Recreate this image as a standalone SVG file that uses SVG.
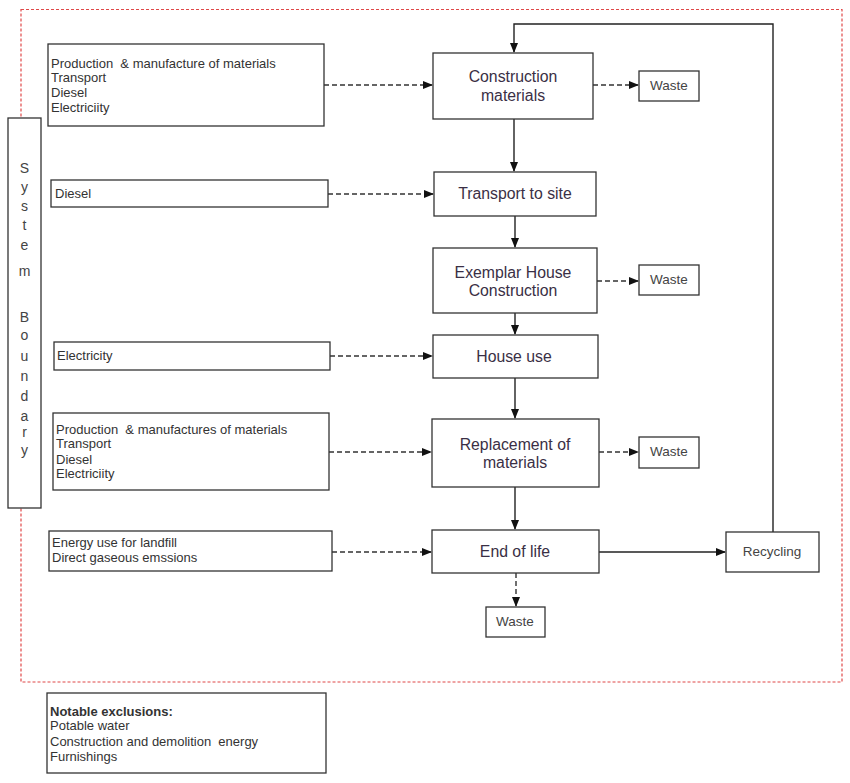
<svg xmlns="http://www.w3.org/2000/svg" width="850" height="783" viewBox="0 0 850 783">
<style>
.box{fill:#fff;stroke:#333;stroke-width:1.3}
.t{font-family:"Liberation Sans",Arial,sans-serif;font-size:13px;fill:#333}
.c{font-family:"Liberation Sans",Arial,sans-serif;font-size:15.8px;fill:#3a2f45;text-anchor:middle}
.w{font-family:"Liberation Sans",Arial,sans-serif;font-size:13.5px;fill:#444;text-anchor:middle}
.sb{font-family:"Liberation Sans",Arial,sans-serif;font-size:14px;fill:#444;text-anchor:middle}
.solid{fill:none;stroke:#222;stroke-width:1.4}
.dash{fill:none;stroke:#333;stroke-width:1.4;stroke-dasharray:5,3}
</style>
<defs>
<marker id="ah" markerWidth="10" markerHeight="8" refX="9" refY="4" orient="auto" markerUnits="userSpaceOnUse">
<path d="M0,0 L10,4 L0,8 Z" fill="#111"/>
</marker>
</defs>
<rect width="850" height="783" fill="#fff"/>
<rect x="21" y="9.5" width="821" height="672.5" fill="none" stroke="#e04848" stroke-width="1.2" stroke-dasharray="3,2"/>

<g id="connectors">
<path class="dash" d="M324,85 H432" marker-end="url(#ah)"/>
<path class="dash" d="M328,194 H433" marker-end="url(#ah)"/>
<path class="dash" d="M330,356 H432" marker-end="url(#ah)"/>
<path class="dash" d="M329,452 H431" marker-end="url(#ah)"/>
<path class="dash" d="M332,552 H431" marker-end="url(#ah)"/>
<path class="dash" d="M593,85 H638" marker-end="url(#ah)"/>
<path class="dash" d="M597,281 H638" marker-end="url(#ah)"/>
<path class="dash" d="M599,452 H638" marker-end="url(#ah)"/>
<path class="dash" d="M516,573 V606" marker-end="url(#ah)"/>
<path class="solid" d="M514,119 V171" marker-end="url(#ah)"/>
<path class="solid" d="M515,216 V247" marker-end="url(#ah)"/>
<path class="solid" d="M515,313 V334" marker-end="url(#ah)"/>
<path class="solid" d="M515,378 V418" marker-end="url(#ah)"/>
<path class="solid" d="M515,487 V529" marker-end="url(#ah)"/>
<path class="solid" d="M599,552 H725" marker-end="url(#ah)"/>
<path class="solid" d="M773,532 V24 H514 V52" marker-end="url(#ah)"/>
</g>

<g id="system-boundary">
<rect class="box" x="8" y="118" width="33" height="390"/>
<text class="sb" x="24.5" y="173">S</text>
<text class="sb" x="24.5" y="192">y</text>
<text class="sb" x="24.5" y="211">s</text>
<text class="sb" x="24.5" y="230">t</text>
<text class="sb" x="24.5" y="250">e</text>
<text class="sb" x="24.5" y="276">m</text>
<text class="sb" x="24.5" y="322">B</text>
<text class="sb" x="24.5" y="340">o</text>
<text class="sb" x="24.5" y="361">u</text>
<text class="sb" x="24.5" y="381">n</text>
<text class="sb" x="24.5" y="401">d</text>
<text class="sb" x="24.5" y="421">a</text>
<text class="sb" x="24.5" y="437">r</text>
<text class="sb" x="24.5" y="455">y</text>
</g>

<g id="in-materials">
<rect class="box" x="48" y="44" width="276" height="82"/>
<text class="t" x="51" y="68" xml:space="preserve">Production  &amp; manufacture of materials</text>
<text class="t" x="51" y="82">Transport</text>
<text class="t" x="51" y="97">Diesel</text>
<text class="t" x="51" y="112">Electriciity</text>
</g>
<g id="in-diesel">
<rect class="box" x="51" y="180" width="277" height="27"/>
<text class="t" x="55" y="198">Diesel</text>
</g>
<g id="in-electricity">
<rect class="box" x="54" y="342" width="276" height="28"/>
<text class="t" x="57" y="360">Electricity</text>
</g>
<g id="in-replacement">
<rect class="box" x="53" y="413" width="276" height="77"/>
<text class="t" x="56" y="434" xml:space="preserve">Production  &amp; manufactures of materials</text>
<text class="t" x="56" y="448">Transport</text>
<text class="t" x="56" y="464">Diesel</text>
<text class="t" x="56" y="478">Electriciity</text>
</g>
<g id="in-endoflife">
<rect class="box" x="49" y="531" width="283" height="40"/>
<text class="t" x="52" y="547">Energy use for landfill</text>
<text class="t" x="52" y="562">Direct gaseous emssions</text>
</g>
<g id="exclusions">
<rect class="box" x="47" y="693" width="279" height="80"/>
<text class="t" x="50" y="716" font-weight="bold">Notable exclusions:</text>
<text class="t" x="50" y="730">Potable water</text>
<text class="t" x="50" y="746" xml:space="preserve">Construction and demolition  energy</text>
<text class="t" x="50" y="761">Furnishings</text>
</g>

<g id="construction-materials">
<rect class="box" x="433" y="53" width="160" height="66"/>
<text class="c" x="513" y="82">Construction</text>
<text class="c" x="513" y="101">materials</text>
</g>
<g id="transport">
<rect class="box" x="434" y="172" width="162" height="44"/>
<text class="c" x="515" y="199">Transport to site</text>
</g>
<g id="exemplar">
<rect class="box" x="433" y="248" width="164" height="65"/>
<text class="c" x="513" y="278">Exemplar House</text>
<text class="c" x="513" y="296">Construction</text>
</g>
<g id="house-use">
<rect class="box" x="433" y="335" width="165" height="43"/>
<text class="c" x="514" y="362">House use</text>
</g>
<g id="replacement">
<rect class="box" x="432" y="419" width="167" height="68"/>
<text class="c" x="515" y="450">Replacement of</text>
<text class="c" x="515" y="468">materials</text>
</g>
<g id="end-of-life">
<rect class="box" x="432" y="530" width="167" height="43"/>
<text class="c" x="515" y="557">End of life</text>
</g>
<g id="recycling">
<rect class="box" x="726" y="532" width="93" height="40"/>
<text class="w" x="772" y="556">Recycling</text>
</g>
<g id="waste1">
<rect class="box" x="639" y="71" width="60" height="30"/>
<text class="w" x="669" y="90">Waste</text>
</g>
<g id="waste2">
<rect class="box" x="639" y="265" width="60" height="30"/>
<text class="w" x="669" y="284">Waste</text>
</g>
<g id="waste3">
<rect class="box" x="639" y="437" width="60" height="31"/>
<text class="w" x="669" y="456">Waste</text>
</g>
<g id="waste4">
<rect class="box" x="486" y="607" width="59" height="30"/>
<text class="w" x="515" y="626">Waste</text>
</g>
</svg>
